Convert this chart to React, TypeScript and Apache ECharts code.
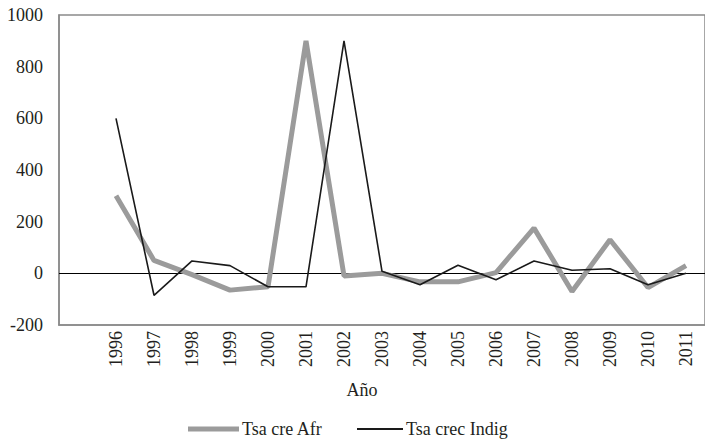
import React, { useEffect, useRef } from "react";
import * as echarts from "echarts";

const years = ["1996", "1997", "1998", "1999", "2000", "2001", "2002", "2003", "2004", "2005", "2006", "2007", "2008", "2009", "2010", "2011"];
const afr = [300, 50, -5, -65, -52, 900, -10, 0, -33, -33, 3, 175, -70, 130, -55, 30];
const indig = [600, -85, 48, 30, -52, -52, 900, 8, -44, 31, -25, 48, 12, 18, -44, 0];
const yTicks = { min: -200, max: 1000, interval: 200 };
const seriesNames = ["Tsa cre Afr", "Tsa crec Indig"];
const xTitle = "Año";

const FONT = "Liberation Serif";
const GRAY = "#9b9b9b";
const BLACK = "#1a1a1a";

export default function App() {
  const ref = useRef<HTMLDivElement>(null);
  useEffect(() => {
    if (!ref.current) return;
    const chart = echarts.init(ref.current, undefined, { renderer: "svg" });
    const categories = ["", ...years];
    const legendText = { fontFamily: FONT, fontSize: 18, color: "#231f20", padding: [0, 0, 0, -2] };
    chart.setOption({
      animation: false,
      textStyle: { fontFamily: FONT },
      grid: {
        left: 59,
        top: 15,
        right: -9,
        bottom: 117,
        show: true,
        borderColor: "#8a8a8a",
        borderWidth: 1.5,
      },
      legend: [
        {
          left: 183,
          top: 415,
          itemWidth: 51,
          itemHeight: 5,
          textStyle: legendText,
          data: [{ name: seriesNames[0], icon: "rect", itemStyle: { color: GRAY } }],
        },
        {
          left: 352,
          top: 415,
          itemWidth: 46,
          itemHeight: 2,
          textStyle: legendText,
          data: [{ name: seriesNames[1], icon: "rect", itemStyle: { color: BLACK } }],
        },
      ],
      graphic: [
        {
          type: "text",
          x: 362,
          y: 390,
          style: {
            text: xTitle,
            font: `18px "${FONT}"`,
            fill: "#231f20",
            textAlign: "center",
            textVerticalAlign: "middle",
          },
        },
      ],
      xAxis: {
        type: "category",
        data: categories,
        boundaryGap: true,
        axisLine: { onZero: false, lineStyle: { color: "#8a8a8a", width: 1.5 } },
        axisTick: { show: false },
        axisLabel: {
          interval: 0,
          rotate: 90,
          margin: 6,
          fontSize: 18,
          fontFamily: FONT,
          color: "#231f20",
          padding: [0, 0, 16, 0],
        },
        splitLine: { show: false },
      },
      yAxis: {
        type: "value",
        min: yTicks.min,
        max: yTicks.max,
        interval: yTicks.interval,
        axisLine: { show: true, lineStyle: { color: "#8a8a8a", width: 1.5 } },
        axisTick: { show: false },
        splitLine: { show: false },
        axisLabel: {
          fontSize: 18,
          fontFamily: FONT,
          color: "#231f20",
          margin: 16,
          formatter: (v: number) => String(v),
        },
      },
      series: [
        {
          name: seriesNames[0],
          type: "line",
          data: [null, ...afr],
          symbol: "none",
          lineStyle: { color: GRAY, width: 5 },
          itemStyle: { color: GRAY },
          z: 3,
          markLine: {
            silent: true,
            symbol: ["none", "none"],
            label: { show: false },
            lineStyle: { color: "#000", width: 1, type: "solid" },
            data: [{ yAxis: 0 }],
            z: 1,
          },
        },
        {
          name: seriesNames[1],
          type: "line",
          data: [null, ...indig],
          symbol: "none",
          lineStyle: { color: BLACK, width: 1.6 },
          itemStyle: { color: BLACK },
          z: 4,
        },
      ],
    });
    return () => chart.dispose();
  }, []);
  return (
    <div
      ref={ref}
      style={{ position: "fixed", left: 0, top: 0, width: 705, height: 442, background: "#fff" }}
    />
  );
}
